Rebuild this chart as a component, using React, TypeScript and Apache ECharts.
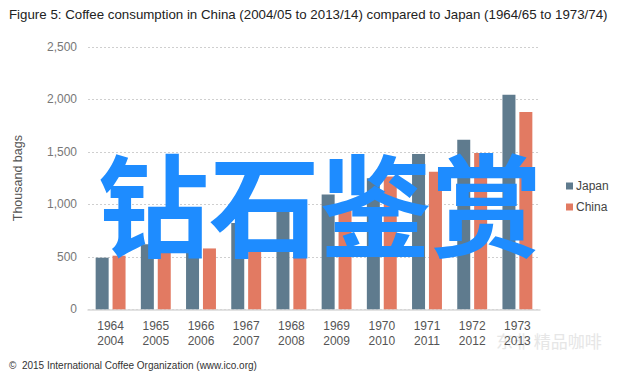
import React, { useEffect, useRef } from "react";
import * as echarts from "echarts";

const categories = ["1964\n2004", "1965\n2005", "1966\n2006", "1967\n2007", "1968\n2008", "1969\n2009", "1970\n2010", "1971\n2011", "1972\n2012", "1973\n2013"];
const japan = [492, 620, 640, 822, 1005, 1095, 1250, 1480, 1615, 2045];
const china = [511, 550, 580, 610, 600, 995, 1265, 1312, 1490, 1880];
const yTicks = [0, 500, 1000, 1500, 2000, 2500];

export default function App() {
  const ref = useRef<HTMLDivElement>(null);
  useEffect(() => {
    const chart = echarts.init(ref.current!, null, { renderer: "svg" });
    chart.setOption({
      animation: false,
      backgroundColor: "#ffffff",
      textStyle: { fontFamily: "Liberation Sans, Arial, sans-serif" },
      title: {
        text: "Figure 5: Coffee consumption in China (2004/05 to 2013/14) compared to Japan (1964/65 to 1973/74)",
        left: 4,
        top: 3,
        textStyle: { fontSize: 13.3, fontWeight: "normal", color: "#222", fontFamily: "Liberation Sans, Arial, sans-serif" },
      },
      legend: {
        orient: "vertical",
        left: 561,
        top: 175,
        itemWidth: 7,
        itemHeight: 7,
        itemGap: 9,
        icon: "rect",
        textStyle: { fontSize: 12, color: "#444", padding: [0, 0, 0, -2] },
        data: ["Japan", "China"],
      },
      grid: { left: 88, right: 100, top: 47, bottom: 67.7 },
      xAxis: {
        type: "category",
        data: categories,
        axisLine: { lineStyle: { color: "#d9d9d9", width: 1.5 } },
        axisTick: { show: false },
        axisLabel: { color: "#555", fontSize: 12, lineHeight: 15, margin: 9 },
      },
      yAxis: {
        type: "value",
        min: yTicks[0],
        max: yTicks[yTicks.length - 1],
        interval: 500,
        name: "Thousand bags",
        nameLocation: "middle",
        nameGap: 64,
        nameTextStyle: { fontSize: 12.5, color: "#555" },
        axisLine: { show: false },
        axisTick: { show: false },
        axisLabel: {
          color: "#777",
          fontSize: 12,
          margin: 11,
          formatter: (v: number) => v.toLocaleString("en-US"),
        },
        splitLine: { lineStyle: { color: "#cfcfcf", type: [2, 2] } },
      },
      series: [
        { name: "Japan", type: "bar", data: japan, itemStyle: { color: "#5f7b8e" }, barWidth: 13, barGap: "30%" },
        { name: "China", type: "bar", data: china, itemStyle: { color: "#e27a62" }, barWidth: 13, barGap: "30%" },
      ],
      graphic: [
        {
          type: "text",
          left: 9,
          top: 360,
          style: { text: "©  2015 International Coffee Organization (www.ico.org)", fontSize: 10, fill: "#333", fontFamily: "Liberation Sans, Arial, sans-serif" },
        },
        {
          type: "text",
          left: 496,
          top: 332,
          style: { text: "东非 精品咖啡", fontSize: 17, fill: "#e6e6e6", fontFamily: "Noto Sans CJK SC" },
        },
        {
          type: "text",
          x: 320,
          y: 200,
          style: {
            text: "钻石鉴赏",
            fontSize: 111,
            fontWeight: "bold",
            fill: "#1e8cff",
            fontFamily: "Noto Sans CJK SC",
            align: "center",
            verticalAlign: "middle",
          },
          z: 100,
        },
      ],
    });
    return () => chart.dispose();
  }, []);
  return <div ref={ref} style={{ width: 640, height: 377, position: "absolute", left: 0, top: 0 }} />;
}
